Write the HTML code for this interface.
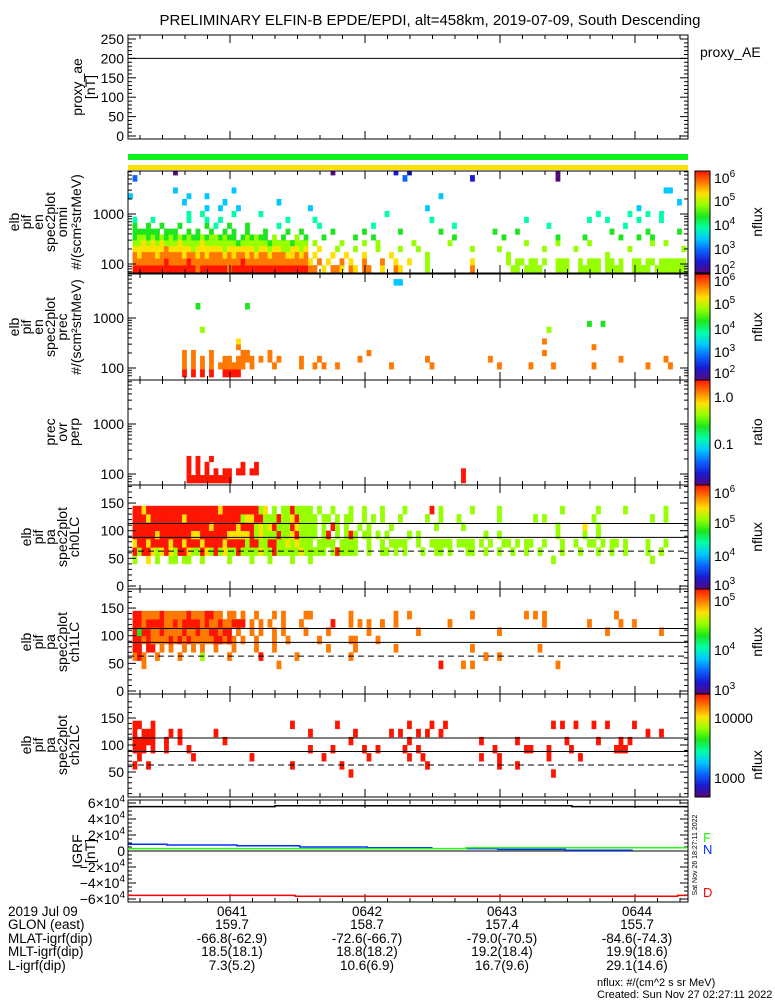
<!DOCTYPE html>
<html><head><meta charset="utf-8"><style>
html,body{margin:0;padding:0;background:#fff;}
svg{display:block;font-family:"Liberation Sans",sans-serif;}
</style></head><body>
<svg id="chart" width="775" height="1000" viewBox="0 0 775 1000" xmlns="http://www.w3.org/2000/svg">
<text x="430" y="25" font-size="15" text-anchor="middle">PRELIMINARY ELFIN-B EPDE/EPDI, alt=458km, 2019-07-09, South Descending</text>
<g id="layer"></g>
</svg>
<script>
// ---------- data ----------
const minuteLabels = ["0641","0642","0643","0644"];
const glonValues = ["159.7","158.7","157.4","155.7"];
const mlatValues = ["-66.8(-62.9)","-72.6(-66.7)","-79.0(-70.5)","-84.6(-74.3)"];
const mltValues = ["18.5(18.1)","18.8(18.2)","19.2(18.4)","19.9(18.6)"];
const lValues = ["7.3(5.2)","10.6(6.9)","16.7(9.6)","29.1(14.6)"];
const aeTimes = [14, 300, 300, 385];
const aeValues = [200, 200, 197, 197];
const igrfFTimes = [14, 80, 80, 212, 212, 265];
const igrfFValues = [55500, 55500, 56500, 56500, 55500, 55500];
const igrfNTimes = [14, 32, 32, 63, 63, 91, 91, 121, 121, 150, 150, 150, 165, 179, 179, 209, 209, 239];
const igrfNValues = [8500, 8500, 7500, 7500, 6500, 6500, 5000, 5000, 4000, 4000, null, null, 3000, 3000, 2000, 2000, 1000, 1000];
const igrfGTimes = [14, 165, 165, 263];
const igrfGValues = [3000, 3000, 4000, 4000];
const igrfDTimes = [14, 89, 89, 259, 259, 263];
const igrfDValues = [-55500, -55500, -56500, -56500, -55500, -55500];
const cellT0 = 14.7, cellDt = 2.0;
const energyEdges = [66,95,130,175,230,300,390,510,670,880,1150,1500,2000,2600,3400,4500,6000,7244];
const paEdges = [40,55,70,85,100,115,130,145];
const omniRows = [
"|.999999999|9999989999|9989999999|9999999999|88.7.887.8|7.88..7..8|7.....6...|......8...|.....66.66|66...666..|66666.6666|..6666.666|6666",
"|.888888898|8889888888|8888898888|8888888888|7.8.7..8.7|..8...8..7|..7...6...|......7...|....6.66.6|6.6..666..|6.666.66.6|..66.66.66|6666",
"|.878887888|8878878788|8787887878|8788877878|.7...7..7.|..7.....7.|......6...|..........|....6.....|..........|......6...|..........|....",
"|.777777787|7777677777|7677777767|7677667767|..7...6...|6....6....|6...6.....|......6...|..6.......|..6......6|..........|.6........|...6",
"|.667676766|6766667666|6666566666|6566665666|.6.....6..|..6..6....|...6......|.6........|........6.|.....6....|..6.......|......6..6|....",
"|.566565656|5656556566|5655.56565|5.6.5..6.5|...5......|5...5.....|..........|..5.......|...5......|.....5....|.5.......5|...5..5...|....",
"|.555555.55|5..5.5..5.|.5.5..5...|5....5..5.|.....5....|..5.......|5........5|..........|.5....5...|..........|.......5..|.....5....|..5.",
"|.5..5..5..|.5.....5.4|..5...5...|...4......|..4.......|....4.....|..........|..4.......|..........|...4......|..........|4.........|....",
"|.4...4....|...4...4..|4.........|.....4....|.4........|..........|.......4..|..........|........4.|..........|..4...4...|...4....4.|....",
"|..........|...4..4...|...4.....4|..........|..........|.......4..|..........|..........|..........|..........|....4.....|.4...4..4.|....",
"|..........|.......3..|3...3.....|..........|3.........|..........|......3...|..........|..........|..........|..........|...3......|....",
"|..........|..3.......|.3........|...3......|..........|..........|..........|..........|..........|..........|..........|..........|..3.",
"|3.........|...3...3..|..........|..........|..........|..........|.........3|..........|..........|..........|..........|..........|....",
"|..........|3.........|...3......|..........|..........|..........|..........|..........|..........|..........|..........|.........3|3...",
"|..........|..........|..........|..........|..........|..........|..........|..........|..........|..........|..........|..........|....",
"|.2........|..........|..........|..........|..........|..........|.2........|......1...|..........|.....0....|..........|..........|....",
"|..........|0.........|..........|..........|.....0....|.........1|..1.......|..........|..........|.....0....|..........|..........|...."
];
const precRows = [
"|..........|..9.9.9.9.|.9999.....|..........",
"|..........|..8.8.8.8.|888888.8..|..8.....8.|.8.8..8...|........8.|.......8..|..........|..8......8|....8.....|...8......|.....8....|8...",
"|..........|..8.8.8.8.|.88.8888.8|.8.8....8.|..8.......|.8........|......8...|..........|8.........|..........|.........8|.........8|....",
"|..........|..8.8...8.|.....88...|.8........|..........|...8......|..........|..........|..........|..8.......|..........|..........|....",
"|..........|..........|....8.....|..........|..........|..........|..........|..........|..........|..........|...8......|..........|....",
"|..........|..........|....7.....|..........|..........|..........|..........|..........|..........|..8.......|..........|..........|....",
"|..........|..........|..........|..........|..........|..........|..........|..........|..........|..........|..........|..........|....",
"|..........|......6...|..........|..........|..........|..........|..........|..........|..........|...6......|..........|..........|....",
"|..........|..........|..........|..........|..........|..........|..........|..........|..........|..........|..5..5....|..........|....",
"|..........|..........|..........|..........|..........|..........|..........|..........|..........|..........|..........|..........|....",
"|..........|..........|..........|..........|..........|..........|..........|..........|..........|..........|..........|..........|....",
"|..........|.....5....|......5...|..........|..........|..........|..........|..........|..........|..........|..........|..........|....",
"|..........|..........|..........|..........|..........|..........|..........|..........|..........|..........|..........|..........|....",
"|..........|..........|..........|..........|..........|..........|..........|..........|..........|..........|..........|..........|....",
"|..........|..........|..........|..........|..........|..........|..........|..........|..........|..........|..........|..........|....",
"|..........|..........|..........|..........|..........|.........3|3.........|..........|..........|..........|..........|..........|...."
];
const ratioRows = [
"|..........|...9999999|999.......|..........|..........|..........|..........|....9",
"|..........|...9.9.9.9|.99.99.99.|..........|..........|..........|..........|....9",
"|..........|...9.9.9..|.....9..9.",
"|..........|...9.9..9."
];
const ch0Rows = [
"|.6..7.6..6|6.66..6...|..6....6..|.6....6...|6.........|..........|..........|..........|..........|....6.....|..........|......6...",
"|.969976797|6997669769|6766966667|6696666676|6666.69666|6..6..66.6|.6...6..66|.6...66..6|..6..6..6.|.6....6...|6...6..6..|6....6..6.",
"|.799799997|9979997999|9799996996|6996676766|6.6666.666|6..6..6.66|66..6..666|66.6666.6.|6..66.6.66|..6...6..6|..66.6.66.|6....6...6",
"|.999997999|9999779999|9977777967|6669667966|66.69.6.69|6.66.6.6..|..6.6.....|.........6|..6.......|.....6....|.6..6.....|..........",
"|.999999999|9999999979|9999799967|6796669766|66.6.96.6.|.6.6....6.|........6.|....6.....|..........|.....6....|.7..6.....|..........",
"|.999799999|9979999999|9999967799|6669667966|66.66.6.66|..6.6.6...|6.....6..6|...6......|..6.......|6.6.......|...6......|......6..6",
"|.997999999|9999999999|7999999996|7.6.669666|6.6..6...6|..6...6...|.6.....9.6|......6...|..6.......|......6...|....6.....|6........6"
];
const ch1Rows = [
"|...8......|..........|..........|...8......|..........|..........|.........9|....8.8...|..........|.....8....",
"|.898..8...|.8....6...|..8......9|.......8..|.........8|..........|..........|.........8|..8.......",
"|.99.99.8.8|..8.8.8..8|...8....8.|..8.......|....8.....|8........8|..........|......8...|..........|.8........",
"|.998988889|8989888889|9898.8..8.|..8..8....|..8......8|8....8....|..........|..........|..........|..........",
"|.959988988|8898898899|899.8..8.8|..8.8....8|....8.....|...8......|....8.....|..........|..8.......|..........|......8...|........8.",
"|.998999988|9899998988|988999.8.8|.8..8...8.|.....9...8|.8.8..8..8|..........|.8........|..........|..8.......|..8......8|..8.......",
"|.998888988|8889888998|8.88.8..8.|..8.8....8|8........8|.........8|..8.......|......8...|........8.|8.8.......|........8.|.........."
];
const ch2Rows = [
"|..........|..........|..........|..........|.........9|..........|..........|..........|..........|....9.....",
"|.9..9.....|..........|..........|......9...|.......9..|..........|......9...|..........|..9...9...|..........",
"|..9.......|....9.....|.......9..|..........|...9......|...9......|..9..9....|........9.|..9.......|...9......|9.........",
"|.999.9..9.|...9......|..........|..........|9....9....|..9..9....|.9..9.....|..........|.9......99|...9....9.|........99|9.........",
"|.99999..9.|.9........|.9........|..........|.........9|..........|..9.......|........9.|......9...|.......9..|....9....9|.9........",
"|.9.999...9|.9.......9|..........|..........|9.........|9.......9.|9...9.9..9|..........|..........|..........|..........|.....9..9.",
"|.99..9....|..........|..........|......9...|......9...|..........|..9....9..|9.........|..........|....9.9..9|...9..9...|..9......."
];
const palette = ["#55087a","#1a1ad2","#0a64ff","#00c8ff","#00ffa8","#1ee61e","#96ff00","#ffe100","#ff7800","#ff1400"];
</script>
<script>
const NS="http://www.w3.org/2000/svg";
const layer=document.getElementById('layer');
function mk(tag,attrs,parent){const e=document.createElementNS(NS,tag);for(const k in attrs)e.setAttribute(k,attrs[k]);(parent||layer).appendChild(e);return e;}
const X0=128,X1=688;
function xT(t){return 230+(t-60)*135/60;}
function clampX(x){return Math.max(X0,Math.min(X1,x));}
const P={
 ae:{top:35,bot:139},
 omni:{top:171,bot:273,y100:264},
 prec:{top:274,bot:380,y100:368},
 ratio:{top:380,bot:485,y100:474},
 ch0:{top:485,bot:589,y0:586,k:0.553},
 ch1:{top:589,bot:694,y0:691,k:0.553},
 ch2:{top:694,bot:797,y0:799,k:0.54},
 igrf:{top:800,bot:902}
};
function yE(p,E){return p.y100-50*Math.log10(E/100);}
function yPA(p,a){return p.y0-a*p.k;}
function yAE(v){return 136-v*0.388;}
function yIG(v){return 851-v*0.0008;}

function frame(name,p){
 const r=mk('rect',{x:X0,y:p.top,width:X1-X0,height:p.bot-p.top,fill:'none',stroke:'#000','stroke-width':1});
 
 
 for(let t=20;t<=380;t+=10){const x=xT(t);if(x<X0||x>X1)continue;const L=(t%60===0)?8:4;
  mk('line',{x1:x,y1:p.bot,x2:x,y2:p.bot-L,stroke:'#000'});mk('line',{x1:x,y1:p.top,x2:x,y2:p.top+L,stroke:'#000'});}
}
function ytick(y,len,label,name){
 mk('line',{x1:X0,y1:y,x2:X0+len,y2:y,stroke:'#000'});
 mk('line',{x1:X1,y1:y,x2:X1-len,y2:y,stroke:'#000'});
 if(label!==undefined){const t=mk('text',{x:X0-4,y:y+5,'font-size':14,'text-anchor':'end'});t.textContent=label;
  
  }
}
function leftLabel(lines,xs,cy,name){
 const g=mk('g',{});
 
 
 lines.forEach((s,i)=>{const x=xs[i]+5;const t=mk('text',{x:x,y:cy,'font-size':14,'text-anchor':'middle',transform:`rotate(-90 ${x} ${cy})`},g);t.textContent=s;});
}
function drawRows(p,rows,edgesY,name){
 const g=mk('g',{});
 
 
 rows.forEach((s,ri)=>{const str=s.replace(/\|/g,'');
  for(let c=0;c<str.length;c++){const ch=str[c];if(ch==='.')continue;
   const xa=clampX(xT(cellT0+c*cellDt)),xb=clampX(xT(cellT0+(c+1)*cellDt));
   const ya=Math.max(p.top,edgesY(ri+1)),yb=Math.min(p.bot,edgesY(ri));
   if(xb<=xa||yb<=ya)continue;
   const r=mk('rect',{x:xa,y:ya,width:xb-xa+0.3,height:yb-ya+0.3,fill:palette[+ch]},g);
   
   
  }});
}

frame('proxy-ae',P.ae);
for(let v=0;v<=250;v+=10){ytick(yAE(v),v%50===0?8:4,v%50===0?String(v):undefined,'ae-tick-label');}
{let d='';for(let i=0;i<aeTimes.length;i++){d+=(i?'L':'M')+clampX(xT(aeTimes[i]))+' '+yAE(aeValues[i]);}
 const l=mk('path',{d:d,fill:'none',stroke:'#000'});}
leftLabel(['proxy_ae','[nT]'],[77,90],87,'proxy-ae-axis-title');
{const t=mk('text',{x:700,y:57,'font-size':14});t.textContent='proxy_AE';}
{const a=mk('rect',{x:X0,y:154,width:X1-X0,height:6,fill:'#10f01a'});
 const b=mk('rect',{x:X0,y:165,width:X1-X0,height:5,fill:'#ffe000'});}

function logAxis(p,name){
 [70,80,90,100,200,300,400,500,600,700,800,900,1000,2000,3000,4000,5000,6000,7000].forEach(E=>{const y=yE(p,E);if(y<p.top||y>p.bot)return;
  const maj=(E===100||E===1000);ytick(y,maj?8:4,maj?String(E):undefined,name+'-tick-label');});
}
drawRows(P.omni,omniRows,i=>yE(P.omni,energyEdges[i]),'omni-spectrogram');
frame('omni',P.omni);logAxis(P.omni,'omni');
leftLabel(['elb','pif','en','spec2plot','omni','#/(scm²strMeV)'],[14,26,38,50,62,76],222,'omni-axis-title');
drawRows(P.prec,precRows,i=>yE(P.prec,energyEdges[i]),'prec-spectrogram');
frame('prec',P.prec);logAxis(P.prec,'prec');
leftLabel(['elb','pif','en','spec2plot','prec','#/(scm²strMeV)'],[14,26,38,50,62,76],327,'prec-axis-title');
drawRows(P.ratio,ratioRows,i=>yE(P.ratio,energyEdges[i]),'ratio-spectrogram');
frame('ratio',P.ratio);logAxis(P.ratio,'ratio');
leftLabel(['prec','ovr','perp'],[50,62,74],432,'ratio-axis-title');

function paAxis(p,name){
 for(let a=0;a<=180;a+=10){const y=yPA(p,a);if(y<p.top||y>p.bot)continue;ytick(y,a%50===0?8:4,a%50===0&&a<=150?String(a):undefined,name+'-tick-label');}
 [113,88].forEach(a=>{const l=mk('line',{x1:X0,x2:X1,y1:yPA(p,a),y2:yPA(p,a),stroke:'#000'});});
 const l=mk('line',{x1:X0,x2:X1,y1:yPA(p,63),y2:yPA(p,63),stroke:'#000','stroke-dasharray':'6,4'});
 
}
drawRows(P.ch0,ch0Rows,i=>yPA(P.ch0,paEdges[i]),'ch0-spectrogram');
frame('ch0',P.ch0);paAxis(P.ch0,'ch0');
leftLabel(['elb','pif','pa','spec2plot','ch0LC'],[26,38,50,62,74],537,'ch0-axis-title');
drawRows(P.ch1,ch1Rows,i=>yPA(P.ch1,paEdges[i]),'ch1-spectrogram');
frame('ch1',P.ch1);paAxis(P.ch1,'ch1');
leftLabel(['elb','pif','pa','spec2plot','ch1LC'],[26,38,50,62,74],642,'ch1-axis-title');
drawRows(P.ch2,ch2Rows,i=>yPA(P.ch2,paEdges[i]),'ch2-spectrogram');
frame('ch2',P.ch2);paAxis(P.ch2,'ch2');
leftLabel(['elb','pif','pa','spec2plot','ch2LC'],[26,38,50,62,74],745,'ch2-axis-title');

frame('igrf',P.igrf);
for(let v=-60000;v<=60000;v+=5000){const y=yIG(v);const maj=v%20000===0;
 mk('line',{x1:X0,y1:y,x2:X0+(maj?8:4),y2:y,stroke:'#000'});mk('line',{x1:X1,y1:y,x2:X1-(maj?8:4),y2:y,stroke:'#000'});
 if(maj){const t=mk('text',{x:X0-3,y:y+5,'font-size':14,'text-anchor':'end'});
  
  if(v===0)t.textContent='0';else{const m=mk('tspan',{},t);m.textContent=(v<0?'−':'')+Math.abs(v/10000)+'×10';const s=mk('tspan',{dy:-6,'font-size':10},t);s.textContent='4';}}}
mk('line',{x1:X0,x2:X1,y1:yIG(0),y2:yIG(0),stroke:'#000'});
function series(ts,vs,color,name){let d='',pen=false;for(let i=0;i<ts.length;i++){if(vs[i]===null){pen=false;continue;}
 d+=(pen?'L':'M')+clampX(xT(ts[i]))+' '+yIG(vs[i]);pen=true;}
 const l=mk('path',{d:d,fill:'none',stroke:color,'stroke-width':1.5});}
series(igrfFTimes,igrfFValues,'#000','igrf-f-line');
series(igrfNTimes,igrfNValues,'#0030ff','igrf-n-line');
series(igrfGTimes,igrfGValues,'#20ff10','igrf-e-line');
series(igrfDTimes,igrfDValues,'#ff0000','igrf-d-line');
leftLabel(['IGRF','[nT]'],[77,90],851,'igrf-axis-title');
[['F',842,'#20ff10'],['N',854,'#0030ff'],['D',897,'#ff0000']].forEach(a=>{const t=mk('text',{x:703,y:a[1],'font-size':13,fill:a[2]});t.textContent=a[0];
 });
{const t=mk('text',{x:697,y:855,'font-size':7,'text-anchor':'middle',transform:'rotate(-90 697 855)'});t.textContent='Sat Nov 26 18:27:11 2022';
 }

const defs=mk('defs',{});
const grad=mk('linearGradient',{id:'jet',x1:0,y1:1,x2:0,y2:0},defs);
palette.forEach((c,i)=>mk('stop',{offset:(i/(palette.length-1)),'stop-color':c},grad));
const bars=[
 {p:P.omni,labels:[['6',178],['5',201],['4',225],['3',249],['2',269]],title:'nflux',ty:222},
 {p:P.prec,labels:[['6',281],['5',304],['4',329],['3',352],['2',373]],title:'nflux',ty:327},
 {p:P.ratio,labels:[['1.0',397],['0.1',444]],title:'ratio',ty:432},
 {p:P.ch0,labels:[['6',493],['5',523],['4',556],['3',585]],title:'nflux',ty:537},
 {p:P.ch1,labels:[['5',601],['4',650],['3',690]],title:'nflux',ty:642},
 {p:P.ch2,labels:[['10000',718],['1000',778]],title:'nflux',ty:765}
];
bars.forEach((b,i)=>{
 const r=mk('rect',{x:695,y:b.p.top,width:15,height:b.p.bot-b.p.top,fill:'url(#jet)',stroke:'#000'});
 
 b.labels.forEach(l=>{const t=mk('text',{x:714,y:l[1]+5,'font-size':14});
  
  if(l[0].length===1){const a=mk('tspan',{},t);a.textContent='10';const s=mk('tspan',{dy:-6,'font-size':10},t);s.textContent=l[0];}
  else t.textContent=l[0];});
 const tx=762;const t=mk('text',{x:tx,y:b.ty,'font-size':14,'text-anchor':'middle',transform:`rotate(-90 ${tx} ${b.ty})`});
 t.textContent=b.title;
});

const rowY=[916,929,943,956,970];
const leftTxt=['2019 Jul 09','GLON (east)','MLAT-igrf(dip)','MLT-igrf(dip)','L-igrf(dip)'];
leftTxt.forEach((s,i)=>{const t=mk('text',{x:8,y:rowY[i],'font-size':13.5});t.textContent=s;});
const cols=[minuteLabels,glonValues,mlatValues,mltValues,lValues];
minuteLabels.forEach((m,j)=>{const x=xT(60*(j+1));cols.forEach((arr,i)=>{const t=mk('text',{x:x+2,y:rowY[i],'font-size':13.5,'text-anchor':'middle'});t.textContent=arr[j];
 });});
{const t=mk('text',{x:597,y:986,'font-size':11});t.textContent='nflux: #/(cm^2 s sr MeV)';
 const u=mk('text',{x:597,y:998,'font-size':11});u.textContent='Created: Sun Nov 27 02:27:11 2022';}
</script>
</body></html>
